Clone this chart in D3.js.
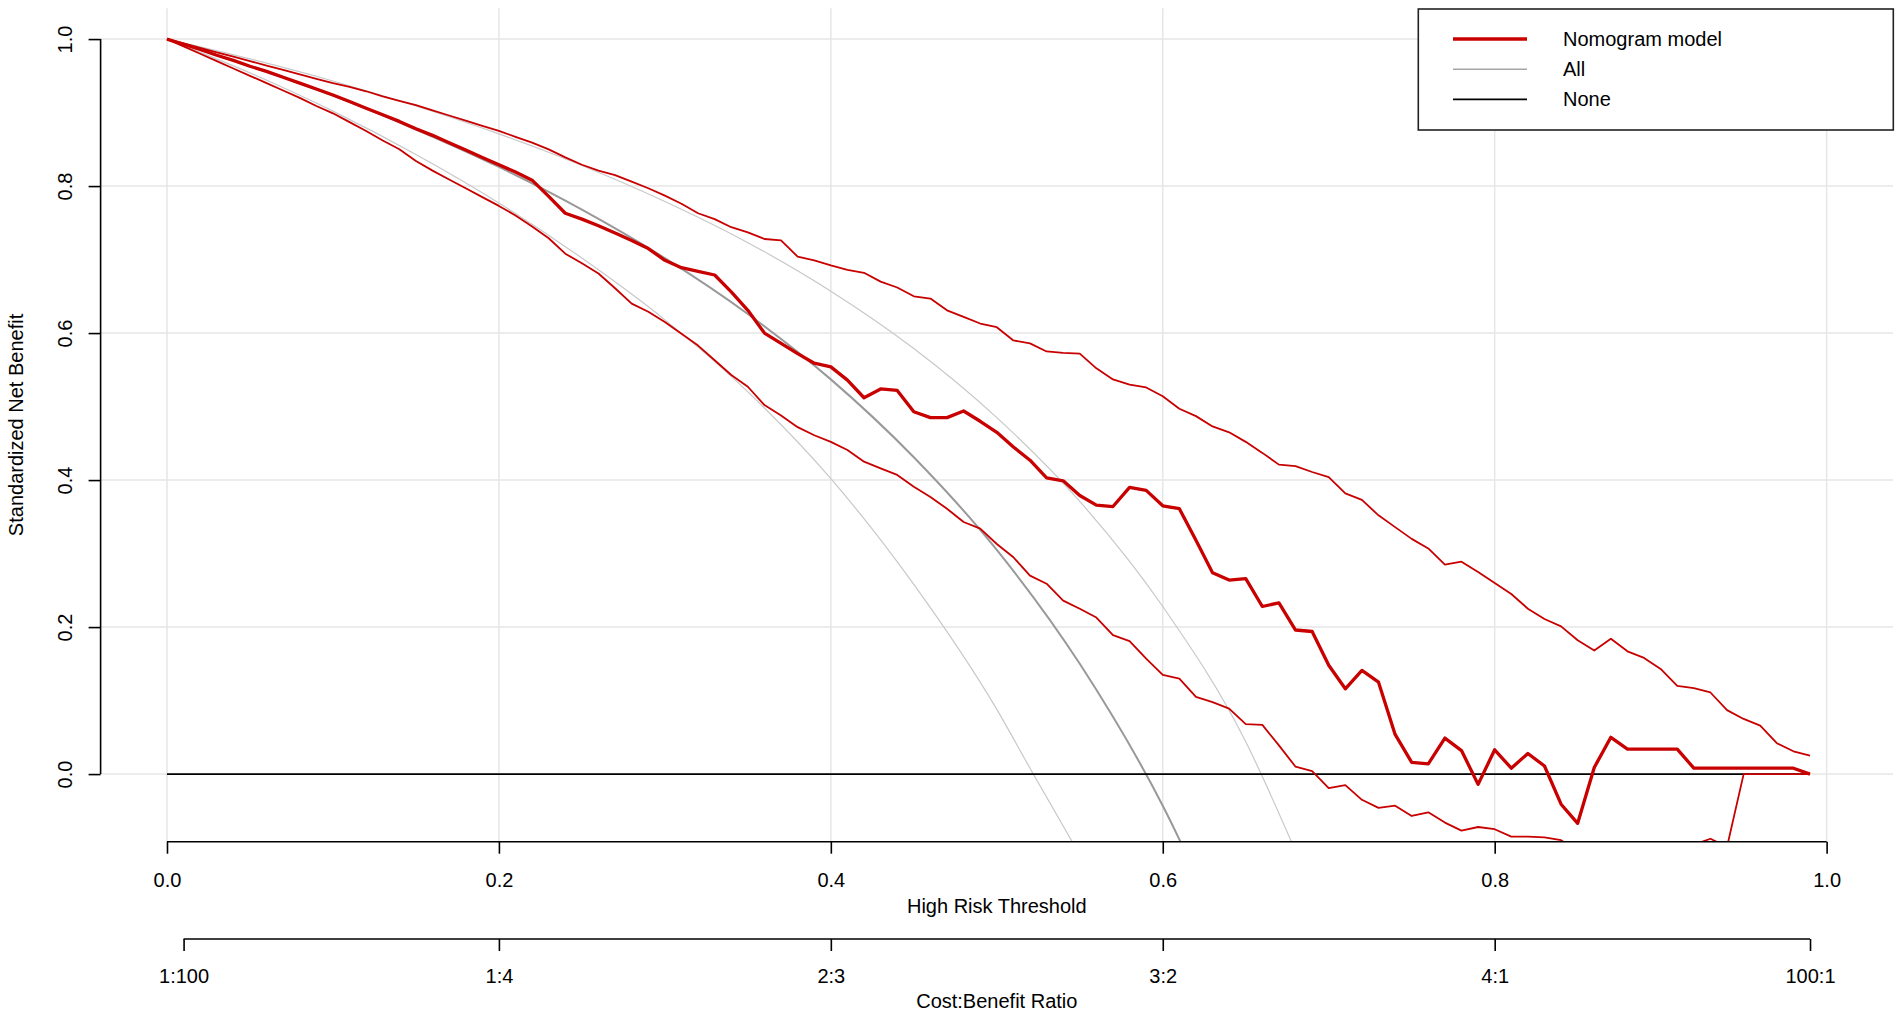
<!DOCTYPE html>
<html>
<head>
<meta charset="utf-8">
<script src="https://cdn.jsdelivr.net/npm/d3@7"></script>
<style>
  body { margin: 0; background: #fff; }
  svg { display: block; }
  text { font-family: "Liberation Sans", Arial, sans-serif; font-size: 20px; fill: #000; }
</style>
</head>
<body>
<svg width="1902" height="1018"></svg>
<script>
// thresholds 0.00 .. 0.99 by 0.01
var thresholds = d3.range(100).map(function (i) { return i / 100; });

var nomogram = [
  1.000, 0.993, 0.986, 0.978, 0.971, 0.963, 0.956, 0.948, 0.940, 0.932,
  0.924, 0.915, 0.906, 0.897, 0.888, 0.878, 0.869, 0.859, 0.849, 0.839,
  0.829, 0.819, 0.808, 0.786, 0.763, 0.755, 0.746, 0.736, 0.726, 0.715,
  0.699, 0.689, 0.684, 0.679, 0.656, 0.631, 0.600, 0.586, 0.572, 0.559,
  0.554, 0.536, 0.512, 0.524, 0.522, 0.493, 0.485, 0.485, 0.494, 0.480,
  0.465, 0.445, 0.427, 0.403, 0.399, 0.379, 0.366, 0.364, 0.390, 0.386,
  0.365, 0.361, 0.318, 0.274, 0.264, 0.266, 0.228, 0.233, 0.196, 0.194,
  0.148, 0.116, 0.141, 0.125, 0.054, 0.016, 0.014, 0.049, 0.032, -0.014,
  0.033, 0.008, 0.028, 0.011, -0.041, -0.067, 0.009, 0.050, 0.034, 0.034,
  0.034, 0.034, 0.008, 0.008, 0.008, 0.008, 0.008, 0.008, 0.008, 0.000
];

var nomogramUpper = [
  1.000, 0.994, 0.988, 0.982, 0.976, 0.970, 0.964, 0.958, 0.952, 0.946,
  0.940, 0.935, 0.929, 0.922, 0.916, 0.910, 0.903, 0.896, 0.889, 0.882,
  0.875, 0.867, 0.859, 0.850, 0.839, 0.829, 0.821, 0.815, 0.806, 0.797,
  0.787, 0.776, 0.763, 0.755, 0.744, 0.737, 0.728, 0.726, 0.704, 0.699,
  0.692, 0.686, 0.682, 0.670, 0.662, 0.650, 0.647, 0.631, 0.622, 0.613,
  0.608, 0.590, 0.586, 0.575, 0.573, 0.572, 0.552, 0.537, 0.530, 0.526,
  0.514, 0.497, 0.487, 0.473, 0.465, 0.452, 0.437, 0.421, 0.419, 0.411,
  0.404, 0.382, 0.373, 0.352, 0.336, 0.320, 0.307, 0.285, 0.289, 0.275,
  0.260, 0.245, 0.225, 0.211, 0.201, 0.182, 0.168, 0.184, 0.167, 0.158,
  0.143, 0.120, 0.117, 0.111, 0.087, 0.075, 0.066, 0.042, 0.031, 0.025
];

var nomogramLower = [
  1.000, 0.990, 0.980, 0.970, 0.960, 0.950, 0.940, 0.930, 0.920, 0.909,
  0.899, 0.887, 0.875, 0.862, 0.850, 0.834, 0.821, 0.809, 0.797, 0.785,
  0.773, 0.760, 0.745, 0.729, 0.708, 0.695, 0.681, 0.661, 0.640, 0.629,
  0.615, 0.599, 0.583, 0.563, 0.543, 0.527, 0.502, 0.488, 0.472, 0.461,
  0.452, 0.441, 0.425, 0.416, 0.407, 0.391, 0.377, 0.361, 0.343, 0.334,
  0.313, 0.295, 0.270, 0.259, 0.236, 0.225, 0.213, 0.189, 0.181, 0.157,
  0.135, 0.130, 0.105, 0.098, 0.089, 0.068, 0.067, 0.039, 0.010, 0.004,
  -0.019, -0.015, -0.035, -0.046, -0.043, -0.057, -0.052, -0.066, -0.077, -0.072,
  -0.075, -0.085, -0.085, -0.086, -0.090, -0.105, -0.118, -0.124, -0.131, -0.127,
  -0.119, -0.108, -0.096, -0.088, -0.099, 0.000, 0.000, 0.000, 0.000, 0.000
];

// "All" curve and its interval, read at coarser steps (smooth curves)
var allT     = [0, 0.05, 0.10, 0.15, 0.20, 0.25, 0.30, 0.35, 0.40, 0.45, 0.50, 0.55, 0.60, 0.65];
var allNB    = [1.000, 0.963, 0.923, 0.877, 0.826, 0.768, 0.702, 0.626, 0.537, 0.431, 0.305, 0.150, -0.043, -0.290];
var allUpperT = [0, 0.05, 0.10, 0.15, 0.20, 0.25, 0.30, 0.35, 0.40, 0.45, 0.50, 0.55, 0.60, 0.65, 0.68];
var allUpper  = [1.000, 0.973, 0.943, 0.909, 0.871, 0.828, 0.779, 0.723, 0.657, 0.579, 0.485, 0.371, 0.228, 0.044, -0.105];
var allLowerT = [0, 0.05, 0.10, 0.15, 0.20, 0.25, 0.30, 0.35, 0.40, 0.45, 0.50, 0.52, 0.55];
var allLower  = [1.000, 0.954, 0.902, 0.843, 0.777, 0.702, 0.618, 0.520, 0.402, 0.258, 0.088, 0.008, -0.110];

var noneT = [0, 0.99];
var noneNB = [0, 0];

var xTicks = [0, 0.2, 0.4, 0.6, 0.8, 1.0];
var yTicks = [0, 0.2, 0.4, 0.6, 0.8, 1.0];
var costTicks = [0.01, 0.2, 0.4, 0.6, 0.8, 0.99];
var costLabels = ["1:100", "1:4", "2:3", "3:2", "4:1", "100:1"];

var legendLabels = ["Nomogram model", "All", "None"];

var red = "#c80000";

var svg = d3.select("svg"),
  plotL = 100.6, plotR = 1893, plotT = 8.2, plotB = 841.7;

var x = d3.scaleLinear().domain([-0.04, 1.04]).range([plotL, plotR]);
var y = d3.scaleLinear().domain([-0.092, 1.042]).range([plotB, plotT]);

svg.append("rect").attr("width", 1902).attr("height", 1018).attr("fill", "#fff");

svg.append("defs").append("clipPath").attr("id", "plot")
  .append("rect")
  .attr("x", plotL).attr("y", plotT)
  .attr("width", plotR - plotL).attr("height", plotB - plotT);

// grid
var grid = svg.append("g").attr("stroke", "#e6e6e6").attr("stroke-width", 1.5);
grid.selectAll(".v").data(xTicks).enter().append("line")
  .attr("class", "v")
  .attr("x1", x).attr("x2", x)
  .attr("y1", plotT).attr("y2", plotB);
grid.selectAll(".h").data(yTicks).enter().append("line")
  .attr("class", "h")
  .attr("x1", plotL).attr("x2", plotR)
  .attr("y1", y).attr("y2", y);

var plot = svg.append("g").attr("clip-path", "url(#plot)");

var smooth = d3.line()
  .x(function (d) { return x(d[0]); })
  .y(function (d) { return y(d[1]); })
  .curve(d3.curveMonotoneX);

var straight = d3.line()
  .x(function (d) { return x(d[0]); })
  .y(function (d) { return y(d[1]); });

function pairs(ts, vs) {
  return ts.map(function (t, i) { return [t, vs[i]]; });
}

plot.append("path")
  .attr("d", smooth(pairs(allUpperT, allUpper)))
  .attr("fill", "none").attr("stroke", "#c8c8c8").attr("stroke-width", 1.2);

plot.append("path")
  .attr("d", smooth(pairs(allLowerT, allLower)))
  .attr("fill", "none").attr("stroke", "#c8c8c8").attr("stroke-width", 1.2);

plot.append("path")
  .attr("d", smooth(pairs(allT, allNB)))
  .attr("fill", "none").attr("stroke", "#999").attr("stroke-width", 2);

plot.append("path")
  .attr("d", straight(pairs(noneT, noneNB)))
  .attr("fill", "none").attr("stroke", "#000").attr("stroke-width", 1.6);

[nomogramUpper, nomogramLower].forEach(function (s) {
  plot.append("path")
    .attr("d", straight(pairs(thresholds, s)))
    .attr("fill", "none").attr("stroke", red)
    .attr("stroke-width", 1.8).attr("stroke-linejoin", "round");
});

plot.append("path")
  .attr("d", straight(pairs(thresholds, nomogram)))
  .attr("fill", "none").attr("stroke", red)
  .attr("stroke-width", 3.3).attr("stroke-linejoin", "round");

// x axis (threshold)
var xAxis = svg.append("g")
  .attr("transform", "translate(0," + plotB + ")")
  .call(d3.axisBottom(x).tickValues(xTicks).tickFormat(d3.format(".1f")).tickSize(12).tickPadding(19));
xAxis.select(".domain").remove();
xAxis.append("line").attr("x1", x(0)).attr("x2", x(1)).attr("stroke", "#000");
xAxis.selectAll("line").attr("stroke-width", 1.6);
xAxis.attr("font-size", null).attr("font-family", null);

// cost:benefit axis
var cAxis = svg.append("g")
  .attr("transform", "translate(0,939)")
  .call(d3.axisBottom(x).tickValues(costTicks)
    .tickFormat(function (d, i) { return costLabels[i]; })
    .tickSize(12).tickPadding(18));
cAxis.select(".domain").remove();
cAxis.append("line").attr("x1", x(costTicks[0])).attr("x2", x(costTicks[costTicks.length - 1])).attr("stroke", "#000");
cAxis.selectAll("line").attr("stroke-width", 1.6);
cAxis.attr("font-size", null).attr("font-family", null);

// y axis
var yAxis = svg.append("g")
  .attr("transform", "translate(" + plotL + ",0)")
  .call(d3.axisLeft(y).tickValues(yTicks).tickFormat(d3.format(".1f")).tickSize(12));
yAxis.select(".domain").remove();
yAxis.append("line").attr("y1", y(0)).attr("y2", y(1)).attr("stroke", "#000");
yAxis.selectAll("line").attr("stroke-width", 1.6);
yAxis.attr("font-size", null).attr("font-family", null);
yAxis.selectAll(".tick text")
  .attr("x", null).attr("dy", null)
  .attr("text-anchor", "middle")
  .attr("transform", "translate(-28.6,0) rotate(-90)");

// axis titles
svg.append("text")
  .attr("x", (plotL + plotR) / 2).attr("y", 913)
  .attr("text-anchor", "middle")
  .text("High Risk Threshold");

svg.append("text")
  .attr("x", (plotL + plotR) / 2).attr("y", 1008)
  .attr("text-anchor", "middle")
  .text("Cost:Benefit Ratio");

svg.append("text")
  .attr("transform", "translate(23," + (plotT + plotB) / 2 + ") rotate(-90)")
  .attr("text-anchor", "middle")
  .text("Standardized Net Benefit");

// legend
var legend = svg.append("g");
legend.append("rect")
  .attr("x", 1418.3).attr("y", 9)
  .attr("width", 475).attr("height", 121)
  .attr("fill", "#fff").attr("stroke", "#222").attr("stroke-width", 1.6);

var legendStyle = [
  { color: red, width: 3.5 },
  { color: "#a6a6a6", width: 1.6 },
  { color: "#000", width: 1.6 }
];

var item = legend.selectAll(".item")
  .data(legendLabels)
  .enter().append("g")
  .attr("class", "item")
  .attr("transform", function (d, i) { return "translate(0," + (39 + i * 30.2) + ")"; });

item.append("line")
  .attr("x1", 1453).attr("x2", 1527)
  .attr("stroke", function (d, i) { return legendStyle[i].color; })
  .attr("stroke-width", function (d, i) { return legendStyle[i].width; });

item.append("text")
  .attr("x", 1563)
  .attr("dy", "0.35em")
  .text(function (d) { return d; });
</script>
</body>
</html>
